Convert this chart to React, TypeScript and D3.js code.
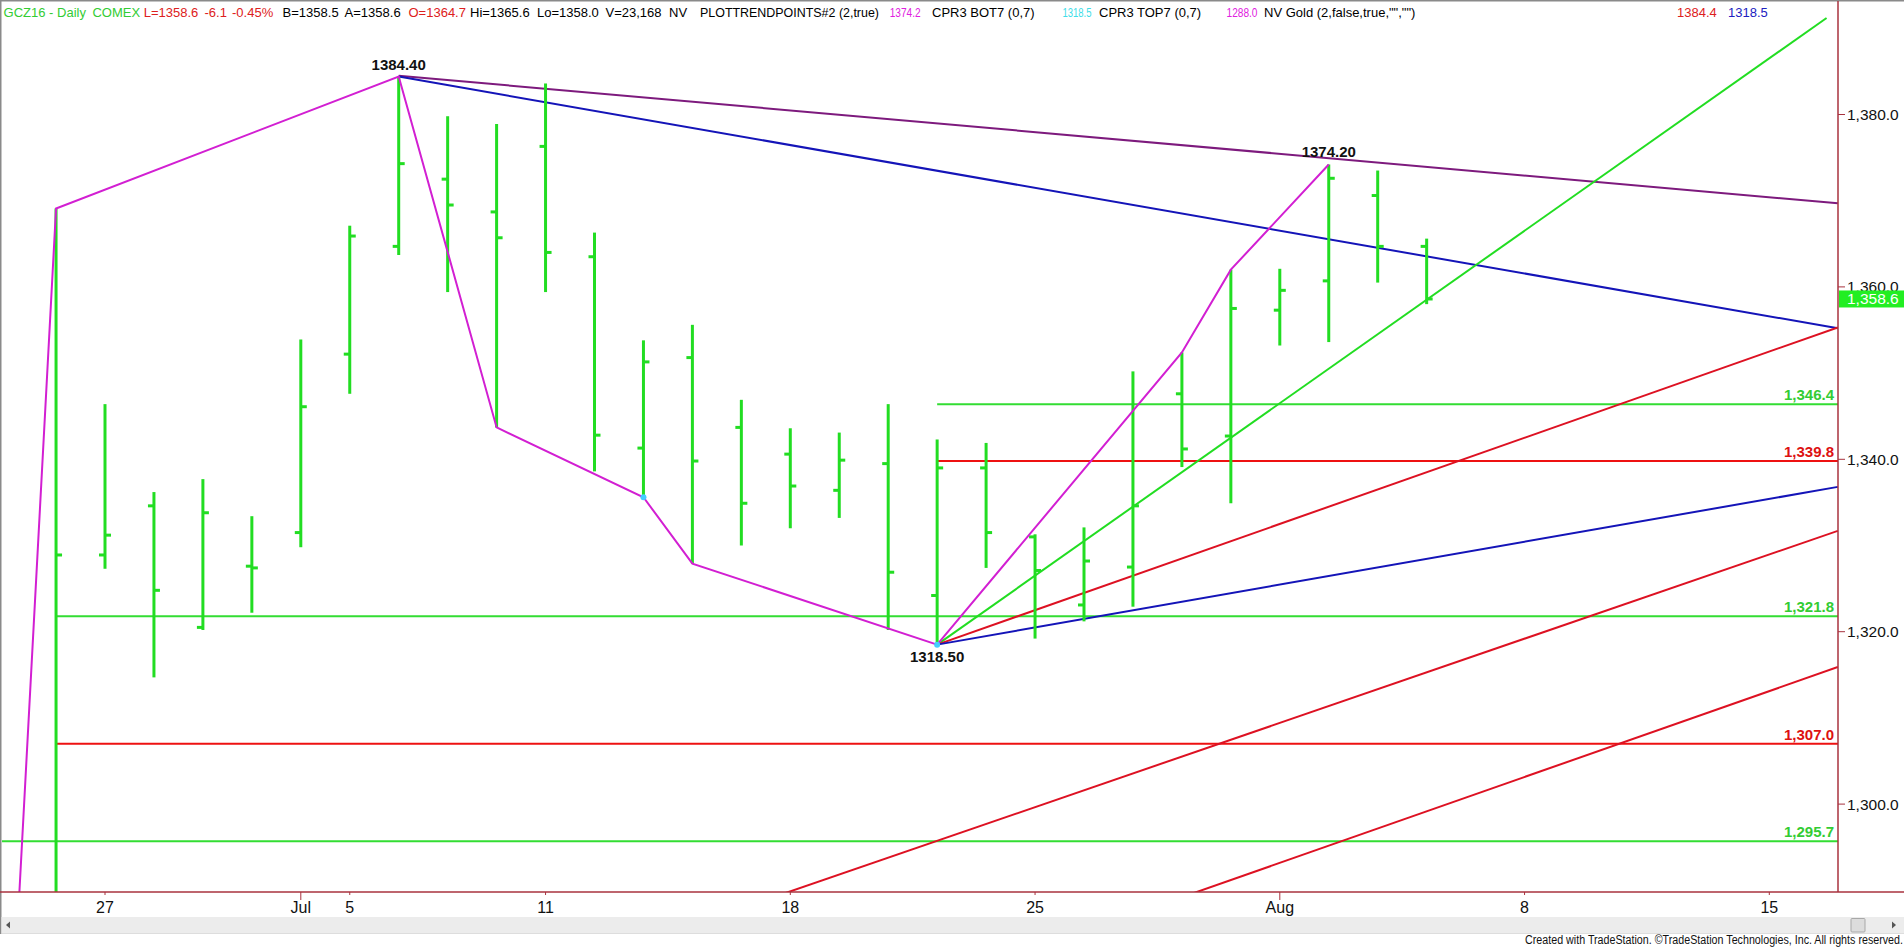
import React from 'react';
import * as d3 from 'd3';

// ---- data ----
const barIdx = [-1, 0, 1, 2, 3, 4, 5, 6, 7, 8, 9, 10, 11, 12, 13, 14, 15, 16, 17, 18, 19, 20, 21, 22, 23, 24, 25, 26, 27];
const opens = [1265.0, 1328.9, 1334.6, 1320.5, 1327.6, 1331.5, 1352.2, 1364.7, 1372.5, 1368.7, 1376.3, 1363.5, 1341.3, 1351.8, 1343.7, 1340.6, 1336.4, 1339.5, 1324.2, 1339.0, 1331.0, 1323.1, 1327.5, 1347.6, 1342.7, 1357.3, 1360.7, 1370.6, 1364.7];
const highs = [1369.1, 1346.4, 1336.2, 1337.7, 1333.4, 1353.9, 1367.1, 1384.4, 1379.8, 1378.9, 1383.6, 1366.3, 1353.8, 1355.6, 1346.9, 1343.6, 1343.1, 1346.4, 1342.3, 1341.9, 1331.3, 1332.1, 1350.2, 1352.4, 1362.0, 1362.1, 1374.2, 1373.5, 1365.6];
const lows = [1262.0, 1327.3, 1314.7, 1320.2, 1322.2, 1329.8, 1347.6, 1363.7, 1359.4, 1343.7, 1359.4, 1338.6, 1335.6, 1327.9, 1330.0, 1332.0, 1333.2, 1320.2, 1318.5, 1327.4, 1319.2, 1321.2, 1322.9, 1339.1, 1334.9, 1353.2, 1353.6, 1360.5, 1358.0];
const closes = [1328.9, 1331.2, 1324.8, 1333.8, 1327.4, 1346.1, 1365.9, 1374.3, 1369.5, 1365.7, 1364.0, 1342.8, 1351.3, 1339.8, 1334.9, 1336.9, 1339.9, 1326.9, 1339.0, 1331.5, 1327.1, 1328.2, 1334.6, 1341.2, 1357.5, 1359.6, 1372.6, 1364.7, 1358.6];

const zigIdx = [-2, -1, 6, 8, 11, 12, 17, 22, 23, 25];
const zigVal = [1263.2, 1369.1, 1384.4, 1343.7, 1335.6, 1327.9, 1318.5, 1352.4, 1362.0, 1374.2];

const dotIdx = [11, 17];
const dotVal = [1335.6, 1318.5];

const pivotIdx = [6, 25, 17];
const pivotVal = [1384.4, 1374.2, 1318.5];
const pivotAbove = [true, true, false];

const dateTickIdx = [0, 4, 5, 9, 14, 19, 24, 29, 34];
const dateTickLabels = ['27', 'Jul', '5', '11', '18', '25', 'Aug', '8', '15'];
const dateTickMonth = [false, true, false, false, false, false, true, false, false];

const priceTicks = [1380, 1360, 1340, 1320, 1300];
const lastPrice = 1358.6;

const levelValues = [1346.4, 1339.8, 1321.8, 1307.0, 1295.7];
const levelStart = [17, 17, -1, -1, -3];
const levelColors = ['#33dd33', '#ee1111', '#33dd33', '#ee1111', '#33dd33'];

// trendlines: from (x1,v1) to (x2,v2) in bar-index units
const trendX1 = [6, 6, 17, 17, 17, 13.5, 22];
const trendV1 = [1384.5, 1384.4, 1318.5, 1318.5, 1318.5, 1288.9, 1289.2];
const trendX2 = [35.4, 35.4, 35.17, 35.4, 35.4, 35.4, 35.4];
const trendV2 = [1369.7, 1355.2, 1391.2, 1355.3, 1336.8, 1331.7, 1315.9];
const trendColors = ['#7d1a7d', '#1414b8', '#22dd22', '#dd1122', '#1414b8', '#dd1122', '#dd1122'];

// header parts: text, colour, x, optional width
const headerParts: [string, string, number, number][] = [
  ['GCZ16 - Daily', '#33cc33', 3.6, 0],
  ['COMEX', '#33cc33', 92.4, 0],
  ['L=1358.6', '#dd2020', 143.7, 0],
  ['-6.1', '#dd2020', 204.5, 0],
  ['-0.45%', '#dd2020', 232, 0],
  ['B=1358.5', '#000000', 282.6, 0],
  ['A=1358.6', '#000000', 344.6, 0],
  ['O=1364.7', '#dd2020', 408.5, 0],
  ['Hi=1365.6', '#000000', 470, 0],
  ['Lo=1358.0', '#000000', 537, 0],
  ['V=23,168', '#000000', 605.5, 0],
  ['NV', '#000000', 669, 0],
  ['PLOTTRENDPOINTS#2 (2,true)', '#000000', 700, 179],
  ['1374.2', '#e020e0', 889.7, 31],
  ['CPR3 BOT7 (0,7)', '#000000', 932, 0],
  ['1318.5', '#40dde8', 1062.5, 29],
  ['CPR3 TOP7 (0,7)', '#000000', 1099, 0],
  ['1288.0', '#e020e0', 1226.5, 31],
  ['NV Gold (2,false,true,"","")', '#000000', 1264, 0],
  ['1384.4', '#dd2020', 1677, 0],
  ['1318.5', '#2020c0', 1728, 0],
];

// ---- layout ----
const W = 1904;
const H = 948;
const plotLeft = 2;
const plotRight = 1838;
const plotTop = 2;
const plotBottom = 892;
const frameColor = '#a8323e';
const barGreen = '#22dd22';
const font = '"Liberation Sans", Arial, sans-serif';

export default function App() {
  const x = d3.scaleLinear().domain([-105 / 48.95, (plotRight - 105) / 48.95]).range([0, plotRight]);
  const y = d3.scaleLinear().domain([1380, 1300]).range([114.5, 804.1]);
  const fmtAxis = d3.format(',.1f');
  const fmtPivot = d3.format('.2f');

  const zigLine = d3.line<number>()
    .x((_, i) => x(zigIdx[i]))
    .y((_, i) => y(zigVal[i]));

  return (
    <svg width={W} height={H} style={{ position: 'absolute', left: 0, top: 0, background: '#fff' }}
      fontFamily={font}>
      <defs>
        <clipPath id="plot">
          <rect x={plotLeft} y={plotTop} width={plotRight - plotLeft} height={plotBottom - plotTop} />
        </clipPath>
      </defs>
      <rect x={0} y={0} width={W} height={H} fill="#ffffff" />

      <g clipPath="url(#plot)">
        {/* horizontal levels */}
        {levelValues.map((v, i) => (
          <line key={'lv' + i} x1={x(levelStart[i])} x2={plotRight} y1={y(v)} y2={y(v)}
            stroke={levelColors[i]} strokeWidth={2} />
        ))}
        {/* trendlines */}
        {trendX1.map((t, i) => (
          <line key={'tl' + i} x1={x(t)} y1={y(trendV1[i])} x2={x(trendX2[i])} y2={y(trendV2[i])}
            stroke={trendColors[i]} strokeWidth={2} />
        ))}
        {/* bars */}
        {barIdx.map((b, i) => {
          const cx = x(b);
          return (
            <g key={'b' + i} stroke={barGreen} strokeWidth={3}>
              <line x1={cx} x2={cx} y1={y(highs[i])} y2={y(lows[i])} />
              <line x1={cx - 6} x2={cx} y1={y(opens[i])} y2={y(opens[i])} />
              <line x1={cx} x2={cx + 6} y1={y(closes[i])} y2={y(closes[i])} />
            </g>
          );
        })}
        {/* zigzag */}
        <path d={zigLine(zigVal) || ''} fill="none" stroke="#d21fd2" strokeWidth={2} />
        {dotIdx.map((d, i) => (
          <circle key={'dot' + i} cx={x(d)} cy={y(dotVal[i])} r={3} fill="#44ccff" />
        ))}
        {/* pivot labels */}
        {pivotIdx.map((p, i) => (
          <text key={'pv' + i} x={x(p)} y={pivotAbove[i] ? y(pivotVal[i]) - 7 : y(pivotVal[i]) + 17}
            textAnchor="middle" fontSize={15} fontWeight="bold" fill="#111">{fmtPivot(pivotVal[i])}</text>
        ))}
        {/* level labels */}
        {levelValues.map((v, i) => (
          <text key={'ll' + i} x={plotRight - 4} y={y(v) - 4} textAnchor="end" fontSize={15}
            fontWeight="bold" fill={levelColors[i] === '#ee1111' ? '#dd1111' : '#33cc33'}>{fmtAxis(v)}</text>
        ))}
      </g>

      {/* frame */}
      <line x1={0} x2={W} y1={0.75} y2={0.75} stroke="#8a8a8a" strokeWidth={1.5} />
      <line x1={0.75} x2={0.75} y1={0} y2={934} stroke="#8a8a8a" strokeWidth={1.5} />
      <line x1={plotRight} x2={plotRight} y1={1} y2={plotBottom} stroke={frameColor} strokeWidth={1.5} />
      <line x1={0} x2={W} y1={plotBottom} y2={plotBottom} stroke={frameColor} strokeWidth={1.5} />

      {/* price axis */}
      {priceTicks.map((p, i) => (
        <g key={'pt' + i}>
          <line x1={plotRight} x2={plotRight + 7} y1={y(p)} y2={y(p)} stroke={frameColor} strokeWidth={1} />
          <text x={plotRight + 9} y={y(p) + 5.5} fontSize={15.5} fill="#111">{fmtAxis(p)}</text>
        </g>
      ))}
      <rect x={plotRight + 1} y={y(lastPrice) - 8.5} width={W - plotRight - 1} height={17} fill="#22ee22" />
      <text x={plotRight + 9} y={y(lastPrice) + 5.5} fontSize={15.5} fill="#ffffff">{fmtAxis(lastPrice)}</text>

      {/* date axis */}
      {dateTickIdx.map((d, i) => (
        <g key={'dt' + i}>
          <line x1={x(d)} x2={x(d)} y1={plotBottom} y2={plotBottom + (dateTickMonth[i] ? 8 : 3)}
            stroke={frameColor} strokeWidth={1} />
          <text x={x(d)} y={913} textAnchor="middle" fontSize={16}
            fontFamily='"Liberation Sans Narrow", "Arial Narrow", "Liberation Sans", sans-serif' fill="#111">
            {dateTickLabels[i]}
          </text>
        </g>
      ))}

      {/* scrollbar */}
      <rect x={1.5} y={917} width={W - 1.5} height={16} fill="#ececec" />
      <line x1={1.5} x2={W} y1={933.5} y2={933.5} stroke="#dddddd" strokeWidth={1} />
      <path d="M6,925 L10,921.5 L10,928.5 Z" fill="#555" />
      <path d="M1896,925 L1892,921.5 L1892,928.5 Z" fill="#555" />
      <rect x={1851} y={918.5} width={14} height={13.5} fill="#dcdcdc" stroke="#a8a8a8" strokeWidth={1} rx={1} />

      {/* header */}
      {headerParts.map(([t, c, hx, w], i) => (
        <text key={'h' + i} x={hx} y={16.5} fontSize={13} fill={c}
          {...(w > 0 ? { textLength: w, lengthAdjust: 'spacingAndGlyphs' } : {})}>{t}</text>
      ))}

      {/* footer */}
      <text x={1903} y={944} textAnchor="end" fontSize={12} fill="#111" textLength={378}
        lengthAdjust="spacingAndGlyphs">
        Created with TradeStation. ©TradeStation Technologies, Inc. All rights reserved.
      </text>
    </svg>
  );
}
